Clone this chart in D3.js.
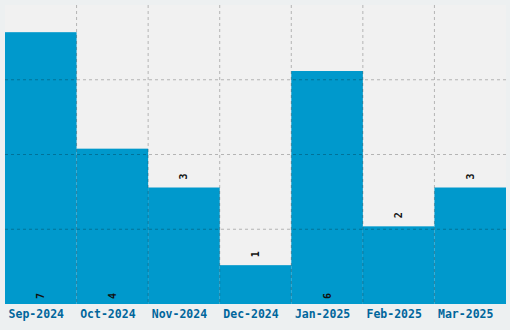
<!DOCTYPE html>
<html>
<head>
<meta charset="utf-8">
<script src="https://cdn.jsdelivr.net/npm/d3@7"></script>
<style>
  body { margin: 0; background: #edf0f1; }
  svg { display: block; }
</style>
</head>
<body>
<div id="chart"></div>
<script>
const months = ["Sep-2024", "Oct-2024", "Nov-2024", "Dec-2024", "Jan-2025", "Feb-2025", "Mar-2025"];
const counts = [7, 4, 3, 1, 6, 2, 3];

const W = 510, H = 330;
const margin = { top: 5, right: 4, bottom: 26, left: 5 };
const width = W - margin.left - margin.right;
const height = H - margin.top - margin.bottom;

const svg = d3.select("#chart").append("svg").attr("width", W).attr("height", H);
const g = svg.append("g").attr("transform", `translate(${margin.left},${margin.top})`);

const x = d3.scaleBand().domain(months).range([0, width]).padding(0);
const y = d3.scaleLinear().domain([0, d3.max(counts) * 1.1]).range([height, 0]);

// Plot background
g.append("rect").attr("width", width).attr("height", height).style("fill", "#f1f1f1");

// Bars
g.selectAll(".bar")
  .data(counts)
  .enter()
  .append("rect")
  .attr("class", "bar")
  .attr("x", (d, i) => x(months[i]))
  .attr("width", x.bandwidth())
  .attr("y", d => y(d))
  .attr("height", d => height - y(d))
  .style("fill", "#0099cc");

// Grid lines (on top of bars)
const grid = g.append("g").attr("class", "grid");
grid.selectAll(".vgrid")
  .data(months.slice(1))
  .enter()
  .append("line")
  .attr("x1", d => x(d)).attr("x2", d => x(d))
  .attr("y1", 0).attr("y2", height)
  .style("stroke", "#000").style("stroke-opacity", 0.25)
  .style("stroke-dasharray", "3,3");
grid.selectAll(".hgrid")
  .data([1, 2, 3])
  .enter()
  .append("line")
  .attr("x1", 0).attr("x2", width)
  .attr("y1", d => height * d / 4).attr("y2", d => height * d / 4)
  .style("stroke", "#000").style("stroke-opacity", 0.25)
  .style("stroke-dasharray", "3,3");

// Value labels
g.selectAll(".label")
  .data(counts)
  .enter()
  .append("text")
  .attr("class", "label")
  .attr("transform", (d, i) => {
    const cx = x(months[i]) + x.bandwidth() / 2;
    const cy = d >= 4 ? height - 8 : y(d) - 11;
    return `translate(${cx},${cy}) rotate(-90)`;
  })
  .attr("dy", "0.35em")
  .style("text-anchor", "middle")
  .style("font-family", "DejaVu Sans Mono, monospace")
  .style("font-weight", "bold")
  .style("font-size", "10px")
  .style("fill", "#111")
  .text(d => d);

// X axis labels
const xAxis = g.append("g")
  .attr("transform", `translate(0,${height})`)
  .call(d3.axisBottom(x).tickSize(0).tickPadding(6));
xAxis.select(".domain").remove();
xAxis.selectAll("text")
  .attr("dx", "-4.5")
  .style("font-family", "DejaVu Sans Mono, monospace")
  .style("font-weight", "bold")
  .style("font-size", "11.5px")
  .style("fill", "#00669c");
</script>
</body>
</html>
